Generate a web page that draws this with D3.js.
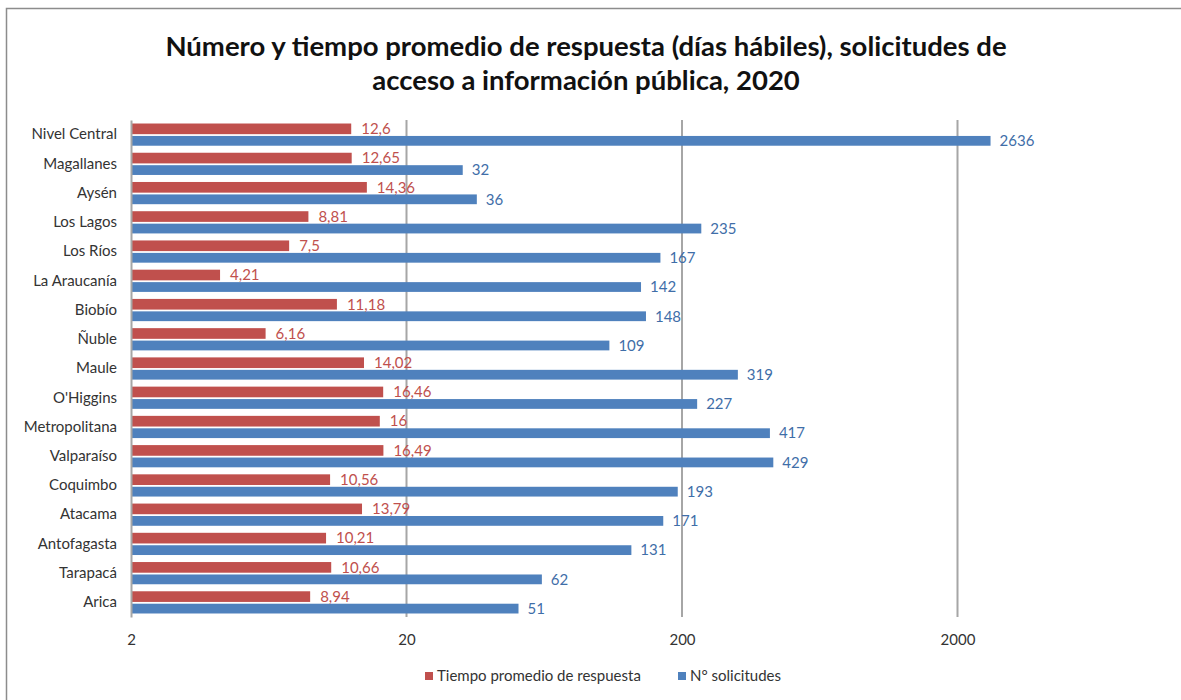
<!DOCTYPE html>
<html><head><meta charset="utf-8">
<script src="https://cdn.jsdelivr.net/npm/d3@7/dist/d3.min.js"></script>
<style>
body{margin:0;background:#fff;}
svg{display:block;font-family:Lato, "Open Sans", sans-serif;}
</style></head>
<body><svg id="c" width="1181" height="700"></svg>
<script>
const categories = ["Nivel Central","Magallanes","Aysén","Los Lagos","Los Ríos","La Araucanía","Biobío","Ñuble","Maule","O'Higgins","Metropolitana","Valparaíso","Coquimbo","Atacama","Antofagasta","Tarapacá","Arica"];
const tiempo = [12.6,12.65,14.36,8.81,7.5,4.21,11.18,6.16,14.02,16.46,16,16.49,10.56,13.79,10.21,10.66,8.94];
const solicitudes = [2636,32,36,235,167,142,148,109,319,227,417,429,193,171,131,62,51];
const tickValues = [2,20,200,2000];
const seriesNames = ["Tiempo promedio de respuesta","N° solicitudes"];
const colors = ["#C0504D","#4F81BD"];

const svg = d3.select("#c");
svg.append("rect").attr("x",6.5).attr("y",8.5).attr("width",1300).attr("height",900)
  .attr("fill","none").attr("stroke","#8c8c8c").attr("stroke-width",1.5);

const title = svg.append("text").attr("text-anchor","middle").attr("font-weight","bold")
  .attr("font-size",27.5).attr("fill","#111");
title.append("tspan").attr("x",586).attr("y",56).text("Número y tiempo promedio de respuesta (días hábiles), solicitudes de");
title.append("tspan").attr("x",586).attr("y",90).text("acceso a información pública, 2020");

const x = d3.scaleLog().domain([2,20000]).range([131,1233]);
const y = d3.scaleBand().domain(categories).range([120,617]).paddingInner(0.24).paddingOuter(0.12);

// gridlines
svg.append("g").selectAll("line").data(tickValues.slice(1)).join("line")
  .attr("x1",d=>x(d)).attr("x2",d=>x(d)).attr("y1",120).attr("y2",617)
  .attr("stroke","#a6a6a6").attr("stroke-width",2);

const bh = y.bandwidth();
const rh = bh*0.48, gap = bh*0.08;
const g = svg.append("g");
g.selectAll("rect.t").data(categories).join("rect").attr("class","t")
  .attr("x",x(2)).attr("y",d=>y(d)).attr("height",rh)
  .attr("width",(d,i)=>x(tiempo[i])-x(2)).attr("fill",colors[0]);
g.selectAll("rect.s").data(categories).join("rect").attr("class","s")
  .attr("x",x(2)).attr("y",d=>y(d)+rh+gap).attr("height",bh-rh-gap)
  .attr("width",(d,i)=>x(solicitudes[i])-x(2)).attr("fill",colors[1]);

const fs = 15;
const fmt = v => String(v).replace(".",",");
g.selectAll("text.t").data(categories).join("text").attr("class","t")
  .attr("x",(d,i)=>x(tiempo[i])+10).attr("y",d=>y(d)+rh/2).attr("dy","0.35em")
  .attr("font-size",fs).attr("fill",colors[0]).text((d,i)=>fmt(tiempo[i]));
g.selectAll("text.s").data(categories).join("text").attr("class","s")
  .attr("x",(d,i)=>x(solicitudes[i])+9).attr("y",d=>y(d)+rh+gap+(bh-rh-gap)/2).attr("dy","0.35em")
  .attr("font-size",fs).attr("fill","#3f6ea8").text((d,i)=>fmt(solicitudes[i]));

// y axis
const ya = svg.append("g").attr("transform","translate(131,0)")
  .call(d3.axisLeft(y).tickSize(0).tickPadding(14));
ya.select(".domain").attr("stroke","#a6a6a6").attr("stroke-width",2);
ya.selectAll("text").attr("font-size",fs).attr("fill","#333").attr("font-family","Lato, sans-serif");

// x axis
const xa = svg.append("g").attr("transform","translate(0,617)")
  .call(d3.axisBottom(x).tickValues(tickValues).tickFormat(d3.format("d")).tickSize(0).tickPadding(17));
xa.select(".domain").remove();
xa.selectAll("text").attr("font-size",fs).attr("fill","#333").attr("font-family","Lato, sans-serif");

// legend
const lg = svg.append("g");
const lx = [425,678];
seriesNames.forEach((n,i)=>{
  lg.append("rect").attr("x",lx[i]).attr("y",672).attr("width",8).attr("height",8).attr("fill",colors[i]);
  lg.append("text").attr("x",lx[i]+12).attr("y",676).attr("dy","0.35em").attr("font-size",fs).attr("fill","#333").text(n);
});
</script></body></html>
